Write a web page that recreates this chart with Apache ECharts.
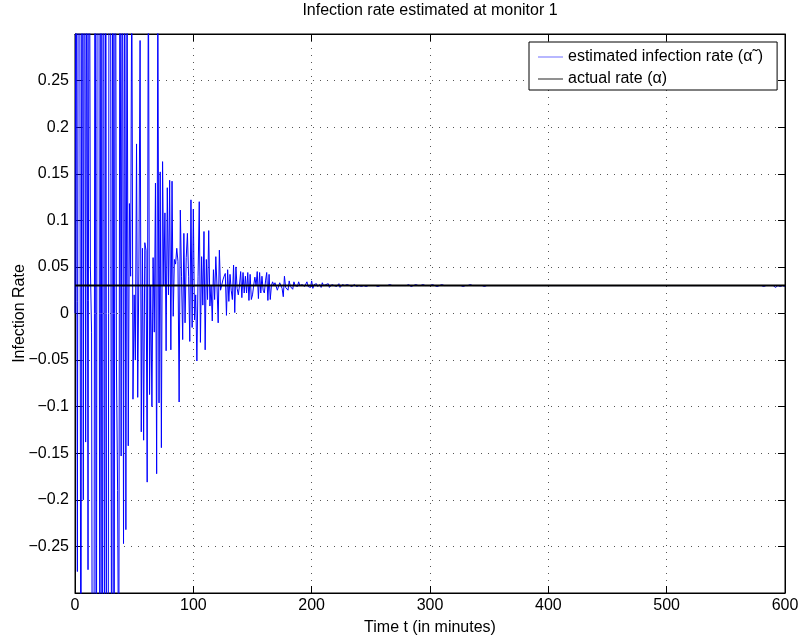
<!DOCTYPE html>
<html>
<head>
<meta charset="utf-8">
<script src="https://cdn.jsdelivr.net/npm/echarts@6/dist/echarts.min.js"></script>
<style>
html,body{margin:0;padding:0;background:#fff;}
#chart{width:799px;height:640px;}
</style>
</head>
<body>
<div id="chart"></div>
<script>
// ---- data (one estimate per minute, t = 0 .. 600) ----
const titleText = 'Infection rate estimated at monitor 1';
const xAxisTitle = 'Time t (in minutes)';
const yAxisTitle = 'Infection Rate';
const seriesNames = ['estimated infection rate (\u03b1\u02dc)', 'actual rate (\u03b1)'];
const minuteStep = 1;
const actualRate = 0.03;
const xTicks = [0, 100, 200, 300, 400, 500, 600];
const yTicks = [-0.25, -0.2, -0.15, -0.1, -0.05, 0, 0.05, 0.1, 0.15, 0.2, 0.25];

// t = 0 .. 49
const rateEarly = [
  0.000, 0.55, -0.277, 0.70, 0.45, -0.60, 0.80, -0.20, 0.65, -0.138,
  0.50, -0.275, 0.60, 0.05, -0.020, -0.70, -0.45, 0.62, -0.65, 0.85,
  0.70, -0.50, 0.60, -0.80, 0.90, -0.55, 0.55, -0.70, -0.50, 0.75,
  0.50, -0.60, 0.70, -0.55, 0.65, -0.05, -0.190, -0.45, 0.50, -0.153,
  0.55, -0.247, 0.45, -0.232, 0.40, -0.142, 0.118, 0.040, 0.38, -0.092
];
// t = 50 .. 99
const rateSettling = [
  0.020, -0.050, 0.182, -0.090, 0.050, 0.293, -0.127, 0.070, -0.136, 0.076,
  0.068, -0.181, 0.40, -0.087, 0.030, -0.100, 0.060, -0.020, 0.140, -0.172,
  0.35, -0.096, 0.152, -0.144, 0.163, 0.030, 0.108, -0.040, 0.135, 0.020,
  0.143, -0.039, 0.142, -0.003, 0.058, 0.053, 0.070, 0.056, -0.095, 0.111,
  0.040, -0.028, 0.086, -0.010, 0.060, 0.086, 0.040, -0.030, 0.122, -0.015
];
// t = 100 .. 199
const rateMid = [
  0.112, -0.007, 0.020, -0.051, 0.040, 0.120, -0.031, 0.061, 0.009, 0.088,
  -0.039, 0.058, 0.015, 0.089, 0.008, 0.030, -0.008, 0.047, 0.015, 0.061,
  0.029, -0.010, 0.068, 0.025, 0.024, 0.036, 0.040, 0.043, -0.002, 0.047,
  0.013, 0.042, 0.025, 0.015, 0.052, 0.001, 0.050, 0.027, 0.020, 0.030,
  0.045, 0.017, 0.044, 0.022, 0.040, 0.022, 0.044, 0.014, 0.042, 0.015,
  0.020, 0.030, 0.039, 0.030, 0.045, 0.016, 0.044, 0.022, 0.040, 0.025,
  0.022, 0.035, 0.044, 0.014, 0.042, 0.015, 0.030, 0.034, 0.030, 0.033,
  0.034, 0.025, 0.024, 0.033, 0.030, 0.027, 0.018, 0.040, 0.028, 0.030,
  0.025, 0.035, 0.029, 0.030, 0.026, 0.034, 0.030, 0.032, 0.029, 0.034,
  0.030, 0.028, 0.031, 0.030, 0.029, 0.031, 0.034, 0.029, 0.030, 0.028
];
// t = 200 .. 600
const rateLate = [
  0.035,0.027,0.031,0.030,0.032,0.029,0.030,0.031,0.028,0.033,0.030,0.029,0.031,0.030,0.032,0.028,0.030,0.031,0.029,0.030,
  0.031,0.029,0.030,0.032,0.028,0.030,0.031,0.029,0.030,0.030,0.031,0.029,0.030,0.032,0.029,0.030,0.031,0.030,0.029,0.030,
  0.030,0.031,0.029,0.030,0.030,0.032,0.029,0.030,0.030,0.031,0.030,0.029,0.030,0.031,0.030,0.030,0.029,0.031,0.030,0.030,
  0.030,0.031,0.030,0.029,0.030,0.030,0.031,0.030,0.030,0.029,0.030,0.031,0.030,0.030,0.030,0.029,0.030,0.031,0.030,0.030,
  0.030,0.030,0.031,0.030,0.029,0.030,0.030,0.030,0.031,0.030,0.030,0.029,0.030,0.030,0.031,0.030,0.030,0.030,0.030,0.029,
  0.030,0.030,0.031,0.030,0.030,0.030,0.029,0.030,0.030,0.030,0.031,0.030,0.030,0.030,0.030,0.029,0.030,0.030,0.030,0.030,
  0.030,0.030,0.030,0.031,0.030,0.030,0.030,0.030,0.029,0.030,0.030,0.030,0.030,0.030,0.031,0.030,0.030,0.030,0.030,0.030,
  0.030,0.030,0.030,0.030,0.030,0.030,0.029,0.030,0.030,0.030,0.030,0.030,0.030,0.030,0.030,0.030,0.030,0.030,0.030,0.030,
  0.030,0.030,0.030,0.030,0.030,0.030,0.030,0.030,0.030,0.030,0.030,0.030,0.030,0.031,0.030,0.030,0.030,0.030,0.030,0.030,
  0.030,0.030,0.030,0.030,0.030,0.030,0.030,0.030,0.030,0.030,0.030,0.030,0.030,0.030,0.030,0.030,0.030,0.030,0.030,0.030,
  0.030,0.030,0.030,0.030,0.030,0.030,0.030,0.030,0.030,0.030,0.030,0.030,0.030,0.030,0.030,0.030,0.030,0.030,0.030,0.030,
  0.030,0.030,0.030,0.030,0.030,0.030,0.030,0.030,0.030,0.030,0.030,0.030,0.030,0.030,0.030,0.030,0.030,0.030,0.030,0.030,
  0.030,0.030,0.030,0.030,0.030,0.030,0.030,0.030,0.030,0.030,0.030,0.030,0.030,0.030,0.030,0.030,0.030,0.030,0.030,0.030,
  0.030,0.030,0.030,0.030,0.030,0.030,0.030,0.030,0.030,0.030,0.030,0.030,0.030,0.030,0.030,0.030,0.030,0.030,0.030,0.030,
  0.030,0.030,0.030,0.030,0.030,0.030,0.030,0.030,0.030,0.030,0.030,0.030,0.030,0.030,0.030,0.030,0.030,0.030,0.030,0.030,
  0.030,0.030,0.030,0.030,0.030,0.030,0.030,0.030,0.030,0.030,0.030,0.030,0.030,0.030,0.030,0.030,0.030,0.030,0.030,0.030,
  0.030,0.030,0.030,0.030,0.030,0.030,0.030,0.030,0.030,0.030,0.030,0.030,0.030,0.030,0.030,0.030,0.030,0.030,0.030,0.030,
  0.030,0.030,0.030,0.030,0.030,0.030,0.030,0.030,0.030,0.030,0.030,0.030,0.030,0.030,0.030,0.030,0.030,0.030,0.030,0.030,
  0.030,0.030,0.030,0.030,0.030,0.030,0.030,0.030,0.030,0.030,0.030,0.030,0.030,0.030,0.030,0.030,0.030,0.030,0.030,0.030,
  0.030,0.031,0.029,0.030,0.030,0.030,0.030,0.030,0.030,0.030,0.030,0.031,0.028,0.027,0.030,0.030,0.029,0.030,0.030,0.030,
  0.029
];

const estimatedRate = rateEarly.concat(rateSettling, rateMid, rateLate);

// ---- chart ----
const FONT = "'Liberation Sans', Arial, Helvetica, sans-serif";
const FS = 16;
const chart = echarts.init(document.getElementById('chart'), null, {renderer: 'canvas'});

function yFmt(v) {
  if (Math.abs(v) > 0.28) return '';
  const s = String(+(+v).toFixed(2));
  return s.replace('-', '\u2212');
}
const gridDots = {show: true, lineStyle: {color: '#555', width: 1, type: [1, 6]}};
const tickStyle = {show: true, inside: true, length: 7, lineStyle: {color: '#000', width: 1}};
const lineStyleAxis = {show: true, onZero: false, lineStyle: {color: '#000', width: 1}};

const option = {
  backgroundColor: '#fff',
  animation: false,
  title: {
    text: titleText,
    left: 430, top: 3, padding: 0, textAlign: 'center',
    textStyle: {fontFamily: FONT, fontSize: FS, fontWeight: 'normal', color: '#000'}
  },
  grid: {left: 75, right: 14, top: 34, bottom: 47, containLabel: false, outerBoundsMode: 'none',
         show: true, borderColor: '#000', borderWidth: 1, backgroundColor: '#fff'},
  legend: {
    left: 529, top: 42, orient: 'vertical',
    padding: [7, 14, 3, 9], itemGap: 6, itemWidth: 25, itemHeight: 1, itemTextGap: 10,
    backgroundColor: '#fff', borderColor: '#000', borderWidth: 1, borderRadius: 0,
    textStyle: {fontFamily: FONT, fontSize: FS, color: '#000', lineHeight: 16},
    data: [
      {name: seriesNames[0], icon: 'rect', itemStyle: {color: '#6f6fff'}},
      {name: seriesNames[1], icon: 'rect', itemStyle: {color: '#222'}}
    ]
  },
  xAxis: [{
    type: 'value', min: xTicks[0], max: xTicks[xTicks.length - 1], interval: xTicks[1] - xTicks[0],
    position: 'bottom',
    axisLine: lineStyleAxis, axisTick: tickStyle, splitLine: gridDots,
    axisLabel: {color: '#000', fontFamily: FONT, fontSize: FS, margin: 5},
    name: xAxisTitle, nameLocation: 'middle', nameGap: 27, nameMoveOverlap: false,
    nameTextStyle: {color: '#000', fontFamily: FONT, fontSize: FS}
  }, {
    type: 'value', min: xTicks[0], max: xTicks[xTicks.length - 1], interval: xTicks[1] - xTicks[0],
    position: 'top',
    axisLine: lineStyleAxis, axisTick: tickStyle, splitLine: {show: false}, axisLabel: {show: false}
  }],
  yAxis: [{
    type: 'value', min: -0.3, max: 0.3, interval: yTicks[1] - yTicks[0],
    position: 'left',
    axisLine: lineStyleAxis, axisTick: tickStyle, splitLine: gridDots,
    axisLabel: {color: '#000', fontFamily: FONT, fontSize: FS, margin: 6, formatter: yFmt},
    name: yAxisTitle, nameLocation: 'middle', nameGap: 47, nameRotate: 90, nameMoveOverlap: false,
    nameTextStyle: {color: '#000', fontFamily: FONT, fontSize: FS}
  }, {
    type: 'value', min: -0.3, max: 0.3, interval: yTicks[1] - yTicks[0],
    position: 'right',
    axisLine: lineStyleAxis, axisTick: tickStyle, splitLine: {show: false}, axisLabel: {show: false}
  }],
  series: [{
    name: seriesNames[0], type: 'line', xAxisIndex: 0, yAxisIndex: 0,
    data: estimatedRate.map((v, i) => [i * minuteStep, v]),
    showSymbol: false, symbol: 'none', clip: true, sampling: null,
    lineStyle: {color: '#0000ff', width: 1}, itemStyle: {color: '#0000ff'}, z: 2
  }, {
    name: seriesNames[1], type: 'line', xAxisIndex: 0, yAxisIndex: 0,
    data: [[xTicks[0], actualRate], [xTicks[xTicks.length - 1], actualRate]],
    showSymbol: false, symbol: 'none', clip: true,
    lineStyle: {color: '#000', width: 2}, itemStyle: {color: '#000'}, z: 3
  }]
};
chart.setOption(option);
</script>
</body>
</html>
